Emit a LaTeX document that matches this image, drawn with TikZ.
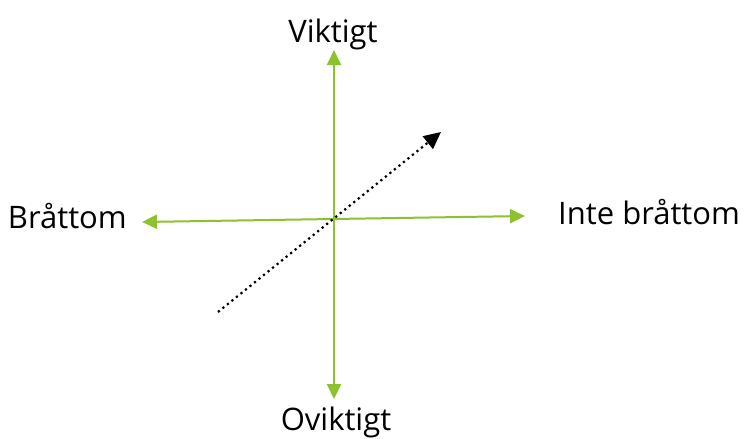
\documentclass[tikz,border=0pt]{standalone}
\usepackage{fontspec}
\setmainfont{Open Sans}
\usetikzlibrary{arrows.meta,positioning}
\definecolor{axisgreen}{RGB}{140,194,45}
\tikzset{
    every node/.style={font=\fontsize{31}{36}\selectfont, inner sep=0pt},
    axis line/.style={draw=axisgreen, line width=2pt,
        {Triangle[width=14pt,length=15pt]}-{Triangle[width=14pt,length=15pt]}},
    trend line/.style={draw=black, line width=2.2pt, dash pattern=on 2.2pt off 3.6pt,
        -{Triangle[width=16pt,length=17pt]}}
}
\begin{document}
\begin{tikzpicture}[x=1pt,y=-1pt]
    \useasboundingbox (0,0) rectangle (745,439);
    % axis ends
    \coordinate (top) at (334,50);
    \coordinate (bottom) at (334,399);
    \coordinate (left) at (142,222);
    \coordinate (right) at (525,216);
    \coordinate (start) at (218,312);
    \coordinate (end) at (441,132);

    \draw[axis line] (top) -- (bottom);
    \draw[axis line] (left) -- (right);
    \draw[trend line] (start) -- (end);

    \node[anchor=base] (viktigt) at (333,42) {Viktigt};
    \node[anchor=base] (oviktigt) at (336,430) {Oviktigt};
    \node[anchor=base east] (bradskande) at (127,228) {Bråttom};
    \node[anchor=base west] (ejbradskande) at (558,224) {Inte bråttom};
\end{tikzpicture}
\end{document}
